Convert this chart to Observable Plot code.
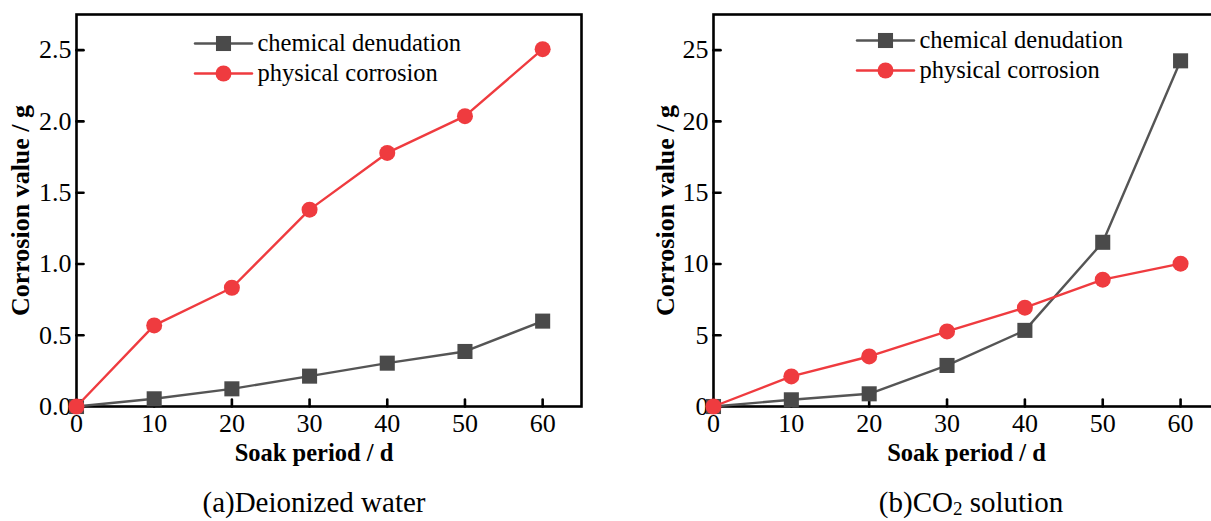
<!DOCTYPE html>
<html><head><meta charset="utf-8">
<script src="https://cdn.jsdelivr.net/npm/d3@7"></script>
<script src="https://cdn.jsdelivr.net/npm/@observablehq/plot@0.6"></script>
<style>
html,body{margin:0;padding:0;background:#fff;overflow:hidden;width:1211px;height:521px}
#wrap{position:relative;width:1211px;height:521px;overflow:hidden;background:#fff}
.panel{position:absolute;top:0}
.cap{position:absolute;top:486px;width:400px;font-family:"Liberation Serif","Times New Roman",serif;font-size:29px;line-height:32px;text-align:center;color:#000;white-space:nowrap}
.cap .sub{font-size:19px;position:relative;top:3px}
</style></head><body><div id="wrap"></div>
<script>
// ---- data ----
const days = [0, 10, 20, 30, 40, 50, 60];
const waterChemical = [0, 0.054, 0.124, 0.213, 0.304, 0.386, 0.599];
const waterPhysical = [0, 0.569, 0.833, 1.381, 1.779, 2.037, 2.507];
const co2Chemical = [0, 0.47, 0.89, 2.88, 5.34, 11.52, 24.25];
const co2Physical = [0, 2.11, 3.51, 5.27, 6.93, 8.9, 10.02];
const xTicks = [0, 10, 20, 30, 40, 50, 60];
const waterYTicks = [0, 0.5, 1.0, 1.5, 2.0, 2.5];
const co2YTicks = [0, 5, 10, 15, 20, 25];
const seriesNames = ["chemical denudation", "physical corrosion"];
const xLabel = "Soak period / d";
const yLabel = "Corrosion value / g";
const captionA = "(a)Deionized water";
const captionB = ["(b)CO", "2", " solution"];

const GRAY_LINE = "#555555", GRAY_MARK = "#4a4a4a", RED = "#ef3b3f";
const tickShape = {draw(ctx, l) { ctx.moveTo(0, 0); ctx.lineTo(0, -l); }};
const lineShape = {draw(ctx, l) { ctx.moveTo(0, 0); ctx.lineTo(0, -l); }};

function panel({chem, phys, yDomain, yTicks, yFmt, width, marginLeft, marginRight, legendDx, legendDy, yLabelDx, xLabelDx}) {
  const chemData = days.map((d, i) => ({x: d, y: chem[i]}));
  const physData = days.map((d, i) => ({x: d, y: phys[i]}));
  const legendMarks = [];
  [[GRAY_LINE, GRAY_MARK, "square", 8.5], [RED, RED, "circle", 8]].forEach(([lc, mc, sym, r], i) => {
    const dy = legendDy + i * 30;
    legendMarks.push(
      Plot.vector([seriesNames[i]], {frameAnchor: "top-left", dx: legendDx, dy, rotate: 90, length: 57, anchor: "middle", shape: lineShape, stroke: lc, strokeWidth: 2.4}),
      Plot.dot([seriesNames[i]], {frameAnchor: "top-left", dx: legendDx, dy, symbol: sym, r, fill: mc, stroke: "none"}),
      Plot.text([seriesNames[i]], {text: d => d, frameAnchor: "top-left", dx: legendDx + 34, dy, textAnchor: "start", lineAnchor: "middle", fontSize: 24.5, fill: "#000"})
    );
  });
  return Plot.plot({
    width, height: 470,
    marginLeft, marginRight, marginTop: 14, marginBottom: 64,
    style: {fontFamily: "'Liberation Serif', 'Times New Roman', serif", fontSize: "26px", color: "#000", background: "transparent", overflow: "visible"},
    x: {domain: [0, 65], ticks: xTicks, tickSize: 0, tickPadding: 7, label: null},
    y: {domain: yDomain, ticks: yTicks, tickSize: 0, tickPadding: 5, tickFormat: yFmt, label: null},
    marks: [
      Plot.frame({stroke: "#000", strokeWidth: 2.6}),
      Plot.vector(xTicks, {x: d => d, frameAnchor: "bottom", length: 7, rotate: 0, anchor: "start", shape: tickShape, stroke: "#000", strokeWidth: 2.6}),
      Plot.vector(yTicks, {y: d => d, frameAnchor: "left", length: 7, rotate: 90, anchor: "start", shape: tickShape, stroke: "#000", strokeWidth: 2.6}),
      Plot.text([xLabel], {text: d => d, frameAnchor: "bottom", dx: xLabelDx, dy: 47, textAnchor: "middle", lineAnchor: "middle", fontWeight: "bold", fontSize: 24.5, fill: "#000"}),
      Plot.text([yLabel], {text: d => d, frameAnchor: "left", dx: yLabelDx, rotate: -90, textAnchor: "middle", lineAnchor: "middle", fontWeight: "bold", fontSize: 26, fill: "#000"}),
      Plot.line(chemData, {x: "x", y: "y", stroke: GRAY_LINE, strokeWidth: 2.4}),
      Plot.dot(chemData, {x: "x", y: "y", symbol: "square", r: 8.5, fill: GRAY_MARK, stroke: "none"}),
      Plot.line(physData, {x: "x", y: "y", stroke: RED, strokeWidth: 2.4}),
      Plot.dot(physData, {x: "x", y: "y", symbol: "circle", r: 8, fill: RED, stroke: "none"}),
      ...legendMarks
    ]
  });
}

const wrap = document.getElementById("wrap");
const left = panel({chem: waterChemical, phys: waterPhysical, yDomain: [0, 2.75], yTicks: waterYTicks, yFmt: d3.format(".1f"),
  width: 600, marginLeft: 76, marginRight: 19, legendDx: 147, legendDy: 29, yLabelDx: -56, xLabelDx: -15});
left.classList.add("panel"); left.style.left = "0px";
wrap.appendChild(left);

const right = panel({chem: co2Chemical, phys: co2Physical, yDomain: [0, 27.5], yTicks: co2YTicks, yFmt: d3.format("d"),
  width: 610, marginLeft: 93, marginRight: 11, legendDx: 172, legendDy: 26, yLabelDx: -48, xLabelDx: 0});
right.classList.add("panel"); right.style.left = "620px";
wrap.appendChild(right);

const capA = document.createElement("div");
capA.className = "cap"; capA.style.left = (314 - 200) + "px"; capA.textContent = captionA;
wrap.appendChild(capA);
const capB = document.createElement("div");
capB.className = "cap"; capB.style.left = (971 - 200) + "px";
capB.append(captionB[0]);
const sub = document.createElement("span"); sub.className = "sub"; sub.textContent = captionB[1]; capB.append(sub);
capB.append(captionB[2]);
wrap.appendChild(capB);
</script></body></html>
